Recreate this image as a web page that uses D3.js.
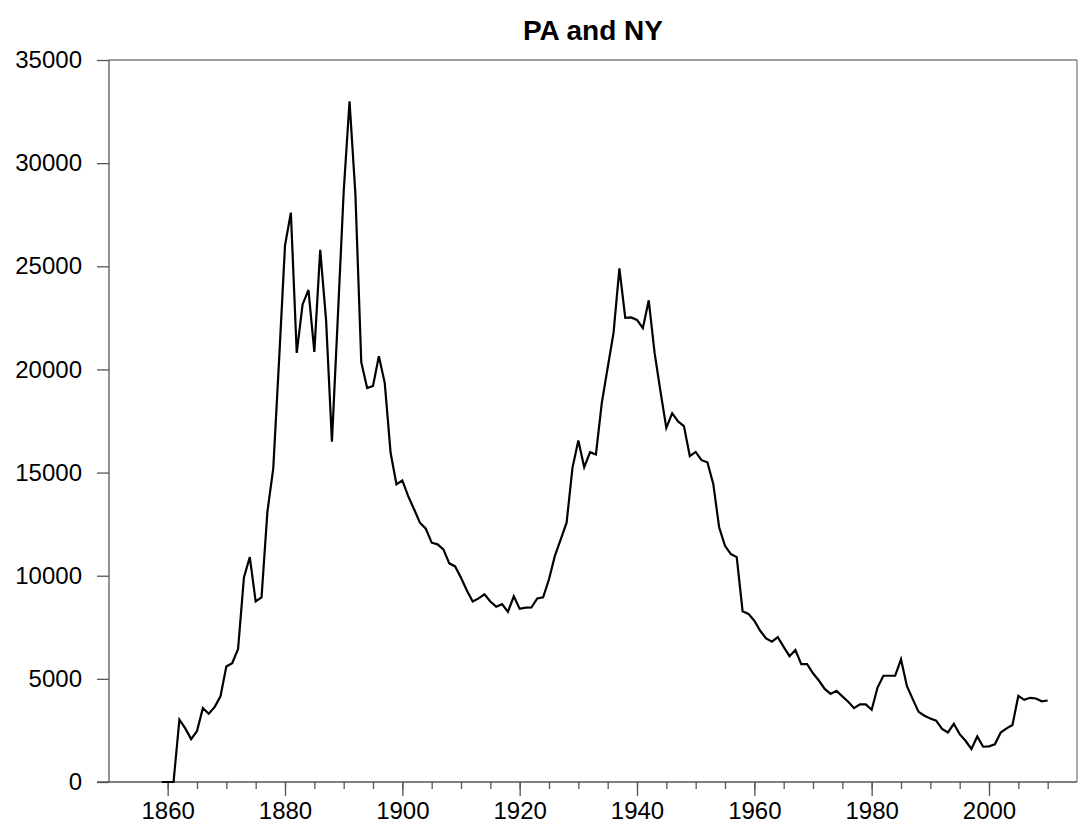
<!DOCTYPE html>
<html>
<head>
<meta charset="utf-8">
<script src="https://cdn.jsdelivr.net/npm/d3@7"></script>
<style>
  html, body { margin: 0; padding: 0; background: #fff; }
  svg { display: block; font-family: "Liberation Sans", Arial, sans-serif; }
</style>
</head>
<body>
<svg id="chart" width="1089" height="834"></svg>
<script>
const title = "PA and NY";
const years = d3.range(1859, 2011);
const values = [
  0, 0, 0, 3020, 2600, 2080, 2470, 3580, 3310, 3630,
  4150, 5600, 5760, 6450, 9920, 10900, 8760, 8950, 13100, 15200,
  20500, 26000, 27600, 20800, 23150, 23850, 20850, 25800, 22400, 16500,
  22500, 28600, 33000, 28500, 20350, 19100, 19200, 20640, 19350, 15960,
  14430, 14620, 13860, 13220, 12570, 12280, 11600, 11520, 11280, 10600,
  10450, 9900, 9280, 8750, 8900, 9100, 8750, 8500, 8620, 8250,
  9000, 8400, 8450, 8460, 8900, 8950, 9830, 10960, 11760, 12570,
  15230, 16550, 15260, 15990, 15880, 18380, 20080, 21770, 24900, 22500,
  22520, 22400, 22000, 23350, 20800, 18940, 17170, 17880, 17480, 17250,
  15800, 16000, 15600, 15500, 14450, 12350, 11450, 11050, 10900, 8280,
  8150, 7820, 7330, 6960, 6800, 7020, 6550, 6100, 6400, 5710,
  5710, 5270, 4920, 4510, 4270, 4420, 4150, 3890, 3580, 3760,
  3760, 3500, 4580, 5150, 5150, 5150, 5950, 4660, 4020, 3400,
  3210, 3080, 2970, 2570, 2400, 2820, 2320, 2000, 1600, 2210,
  1710, 1730, 1830, 2400, 2600, 2760, 4180, 3980, 4080, 4050,
  3910, 3950
];
const xMajorTicks = [1860, 1880, 1900, 1920, 1940, 1960, 1980, 2000];
const xMinorTicks = d3.range(1860, 2011, 5);
const yTicks = [0, 5000, 10000, 15000, 20000, 25000, 30000, 35000];

const data = years.map((yr, i) => ({ year: yr, value: values[i] }));

const svg = d3.select("#chart");
const L = 109, R = 1077, T = 60, B = 782;
const FONT = "'Liberation Sans', Arial, sans-serif";

const x = d3.scaleLinear().domain([1850, 2015]).range([L, R]);
const y = d3.scaleLinear().domain([0, 35000]).range([B, T]);

// frame top / right
svg.append("line").attr("x1", L).attr("x2", R).attr("y1", T).attr("y2", T)
  .attr("stroke", "#808080").attr("stroke-width", 1.3);
svg.append("line").attr("x1", R).attr("x2", R).attr("y1", T).attr("y2", B)
  .attr("stroke", "#808080").attr("stroke-width", 1.3);

// x axis: minor ticks
const xMinorAxis = d3.axisBottom(x).tickValues(xMinorTicks).tickSize(7).tickFormat("");
const gxm = svg.append("g").attr("transform", `translate(0,${B})`).call(xMinorAxis);
gxm.select(".domain").remove();
gxm.selectAll("line").attr("stroke", "#555").attr("stroke-width", 1.3);

// x axis: major ticks with labels
const xAxis = d3.axisBottom(x).tickValues(xMajorTicks).tickSize(14).tickPadding(6).tickFormat(d3.format("d"));
const gx = svg.append("g").attr("transform", `translate(0,${B})`).call(xAxis);
gx.select(".domain").remove();
gx.selectAll("line").attr("stroke", "#555").attr("stroke-width", 1.3);
gx.selectAll("text").attr("font-size", 24).attr("fill", "#000").attr("font-family", FONT);

// x axis line (extends slightly left)
svg.append("line").attr("x1", L - 12).attr("x2", R).attr("y1", B).attr("y2", B)
  .attr("stroke", "#555").attr("stroke-width", 1.3);

// y axis
const yAxis = d3.axisLeft(y).tickValues(yTicks).tickSize(12).tickPadding(15).tickFormat(d3.format("d"));
const gy = svg.append("g").attr("transform", `translate(${L},0)`).call(yAxis);
gy.select(".domain").attr("stroke", "#555").attr("stroke-width", 1.3).attr("d", `M0,${T}V${B}`);
gy.selectAll("line").attr("stroke", "#555").attr("stroke-width", 1.3);
gy.selectAll("text").attr("font-size", 24).attr("fill", "#000").attr("font-family", FONT);

// line
const line = d3.line().x(d => x(d.year)).y(d => y(d.value));
svg.append("path").datum(data).attr("d", line)
  .attr("fill", "none").attr("stroke", "#000").attr("stroke-width", 2.2)
  .attr("stroke-linejoin", "miter");

// title
svg.append("text").attr("x", (L + R) / 2).attr("y", 40)
  .attr("text-anchor", "middle").attr("font-size", 28).attr("font-weight", "bold")
  .attr("font-family", FONT)
  .text(title);
</script>
</body>
</html>
